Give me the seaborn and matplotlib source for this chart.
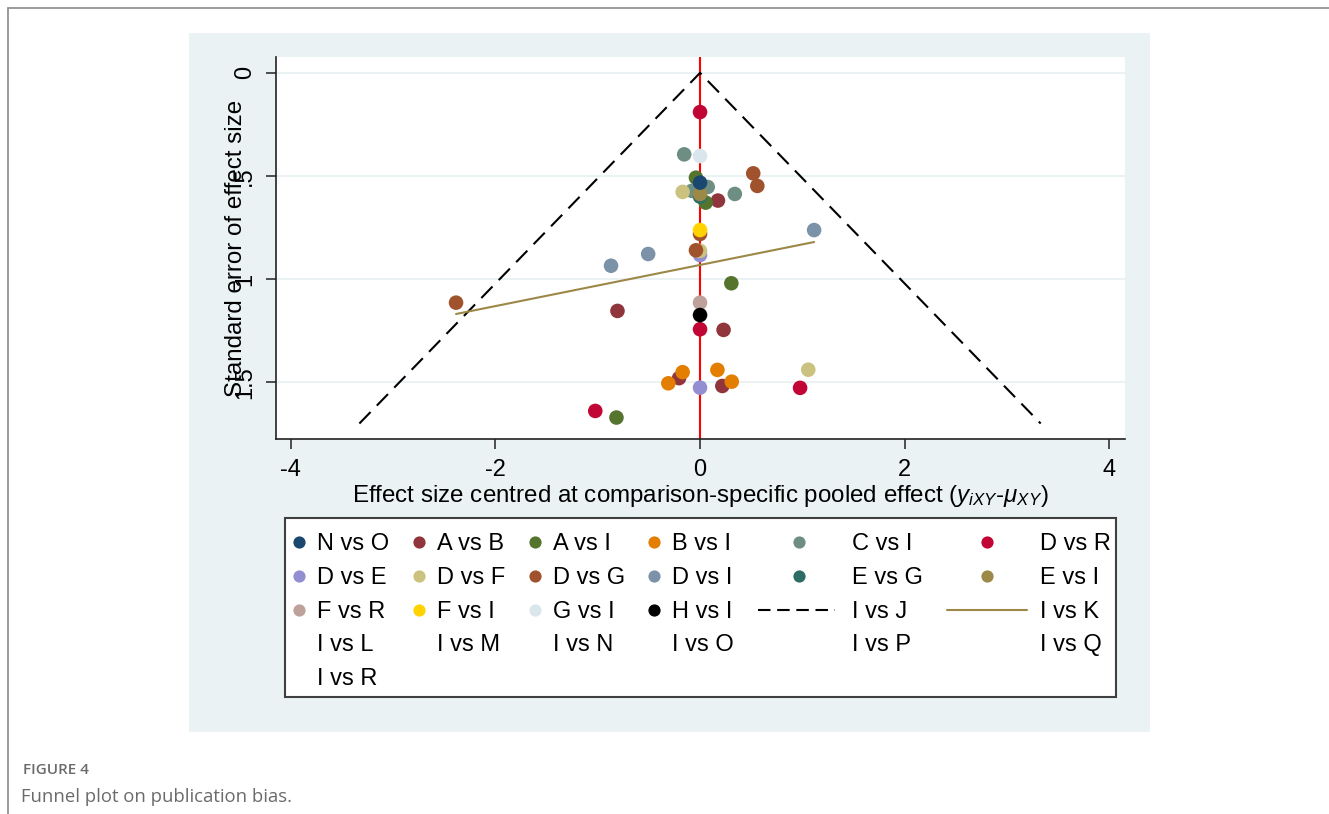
import matplotlib
matplotlib.use("Agg")
import matplotlib.pyplot as plt
import pandas as pd
import seaborn as sns
from matplotlib.patches import Rectangle

# comparisons shown as coloured markers (legend order) and their Stata s2color colours
comparisons = ["N vs O", "A vs B", "A vs I", "B vs I", "C vs I", "D vs R",
               "D vs E", "D vs F", "D vs G", "D vs I", "E vs G", "E vs I",
               "F vs R", "F vs I", "G vs I", "H vs I"]
colors = ["#1A476F", "#90353B", "#55752F", "#E37E00", "#6E8E84", "#C10534",
          "#938DD2", "#CAC27E", "#A0522D", "#7B92A8", "#2D6D66", "#9C8847",
          "#BFA19C", "#FFD200", "#D9E6EB", "#000000"]
line_labels = ["I vs J", "I vs K"]
empty_labels = ["I vs L", "I vs M", "I vs N", "I vs O", "I vs P", "I vs Q", "I vs R"]

# one entry per study: comparison, centred effect size, standard error
pt_comp = ["A vs B"] * 5 + ["A vs I"] * 4 + ["B vs I"] * 4 + ["C vs I"] * 4 + \
          ["D vs R"] * 4 + ["D vs E"] * 2 + ["D vs F"] * 3 + ["D vs G"] * 5 + \
          ["D vs I"] * 3 + ["E vs G", "E vs I", "F vs R", "F vs I", "G vs I", "H vs I", "N vs O"]
pt_x = [0.175, -0.807, 0.23, -0.205, 0.218,
        -0.04, 0.055, 0.306, -0.817,
        -0.17, -0.31, 0.17, 0.31,
        -0.155, 0.075, -0.08, 0.34,
        0.0, 0.0, 0.978, -1.024,
        0.0, 0.0,
        -0.17, 0.0, 1.058,
        0.52, 0.56, 0.0, -0.04, -2.385,
        1.115, -0.507, -0.87,
        0.0, 0.0, 0.0, 0.0, 0.0, 0.0, 0.0]
pt_y = [0.619, 1.154, 1.246, 1.480, 1.518,
        0.508, 0.629, 1.020, 1.671,
        1.451, 1.505, 1.440, 1.497,
        0.395, 0.553, 0.572, 0.587,
        0.190, 1.243, 1.527, 1.639,
        0.883, 1.526,
        0.577, 0.863, 1.439,
        0.487, 0.548, 0.781, 0.860, 1.114,
        0.762, 0.878, 0.935,
        0.600, 0.587, 1.114, 0.762, 0.403, 1.174, 0.532]

# pseudo 95% confidence funnel (I vs J) and fitted line (I vs K)
funnel_x = [-3.33, 0.0, 3.33]
funnel_y = [1.70, 0.0, 1.70]
fit_x = [-2.385, 1.115]
fit_y = [1.169, 0.820]

df = pd.DataFrame({"comparison": pt_comp, "effect": pt_x, "se": pt_y})
palette = dict(zip(comparisons, colors))

sns.set_theme(style="white")
plt.rcParams["font.family"] = ["Liberation Sans", "DejaVu Sans"]
plt.rcParams["mathtext.fontset"] = "custom"
plt.rcParams["mathtext.rm"] = "Liberation Sans"
plt.rcParams["mathtext.it"] = "Liberation Sans:italic"

W, H = 1329, 814
fig = plt.figure(figsize=(W / 100, H / 100), dpi=100)
fig.patch.set_facecolor("white")

# background layer in pixel coordinates: page frame, graph region, legend, caption
bg = fig.add_axes([0, 0, 1, 1], zorder=0)
bg.set_xlim(0, W)
bg.set_ylim(H, 0)
bg.axis("off")
bg.plot([8, W], [8, 8], color="#8a8a8a", lw=1.2)
bg.plot([8, 8], [8, H], color="#8a8a8a", lw=1.2)
bg.add_patch(Rectangle((189, 33), 961, 699, facecolor="#EAF2F3", edgecolor="none"))
bg.text(23, 770, "FIGURE 4", fontsize=11, fontweight="semibold", color="#6b6b6b",
        family="Open Sans", va="center")
bg.text(21, 797, "Funnel plot on publication bias.", fontsize=13.3, color="#6b6b6b",
        family="Open Sans", va="center")

# legend box drawn by hand to get Stata's 6-column row-major layout
bg.add_patch(Rectangle((285, 518), 831, 179, facecolor="white", edgecolor="#404040", lw=1.5))
leg_marker_x = [299, 419, 535, 654, 799, 987]
leg_text_x = [317, 437, 553, 672, 852, 1040]
leg_row_y = [542, 576, 610, 643, 677]
entries = comparisons + line_labels + empty_labels
for i, lab in enumerate(entries):
    r, c = divmod(i, 6)
    y = leg_row_y[r]
    if i < len(comparisons):
        bg.plot(leg_marker_x[c], y, "o", ms=8.8, color=colors[i], mec="none")
    elif lab == "I vs J":
        bg.plot([758, 835], [y, y], color="black", lw=1.5, ls=(0, (6, 3.2)))
    elif lab == "I vs K":
        bg.plot([947, 1027], [y, y], color="#9C8847", lw=1.5)
    bg.text(leg_text_x[c], y + 8, lab, fontsize=17, color="black", va="baseline", ha="left")

# main plot
ax = fig.add_axes([276 / W, 1 - 439 / H, (1125.3 - 276) / W, (439 - 57.3) / H], zorder=1)
ax.set_facecolor("white")
for y in [0, 0.5, 1, 1.5]:
    ax.axhline(y, color="#EAF2F3", lw=1.4, zorder=0)
ax.axvline(0, color="#FF0000", lw=1.5, zorder=1)
ax.plot(funnel_x, funnel_y, color="black", lw=1.5, ls=(0, (7.7, 4.3)), zorder=1)
ax.plot(fit_x, fit_y, color="#9C8847", lw=1.5, zorder=1)
sns.scatterplot(data=df, x="effect", y="se", hue="comparison", hue_order=comparisons,
                palette=palette, s=110, linewidth=0, alpha=1, legend=False, ax=ax, zorder=2)

ax.set_xlim(-4.145, 4.157)
ax.set_ylim(1.775, -0.0756)
ax.set_xticks([-4, -2, 0, 2, 4])
ax.set_xticklabels(["-4", "-2", "0", "2", "4"])
ax.set_yticks([0, 0.5, 1, 1.5])
ax.set_yticklabels(["0", ".5", "1", "1.5"])
ax.tick_params(axis="both", direction="out", length=7, width=1.1, color="#222222",
               labelsize=17, labelcolor="black", pad=7.5)
ax.tick_params(axis="x", bottom=True)
ax.tick_params(axis="y", left=True, labelrotation=90)
for lab in ax.get_yticklabels():
    lab.set_va("center")
for side in ["top", "right"]:
    ax.spines[side].set_visible(False)
for side in ["left", "bottom"]:
    ax.spines[side].set_color("#222222")
    ax.spines[side].set_linewidth(1.2)

ax.set_xlabel(r"Effect size centred at comparison-specific pooled effect ($y_{iXY}$-$\mu_{XY}$)",
              fontsize=17.4, color="black")
ax.xaxis.set_label_coords((700 - 276) / (1125.3 - 276), (439 - 483) / (439 - 57.3))
ax.set_ylabel("Standard error of effect size", fontsize=17.4, color="black")
ax.yaxis.set_label_coords((246.5 - 276) / (1125.3 - 276), 0.5)

fig.savefig("out.png", dpi=100)
